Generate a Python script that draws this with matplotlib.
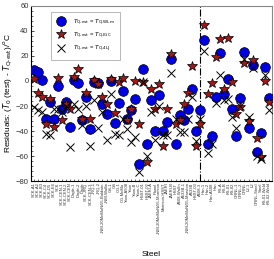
import matplotlib
matplotlib.use("Agg")
import matplotlib.pyplot as plt
from matplotlib.ticker import MultipleLocator

plt.rcParams['font.family'] = ['Liberation Sans', 'DejaVu Sans']

steels = [
    "SCK-A1", "SCK-A2", "SCK-B3", "SCK-C4", "SCK-D5", "SCK-E6", "SCK",
    "SCK-CEN-1", "SCK-CEN-2", "SCK-CEN", "Dagle-1", "Dagle-2", "Dagle",
    "SCK-JRQ", "SCK-CEN-3", "JRQ-1", "JRQ-2", "JNM-20MnMoNi55-Baldwin",
    "JNM-Wallin", "GS-1", "GS", "CG-1", "CG-MnMo", "Yoon-A508", "Yoon",
    "Yoon-B", "Yoon-C", "HSST-01", "HSST-02", "JAERI-A", "Pawel",
    "JNM-20MnMoNi55-Morrison", "Morrison-HSST", "JAERI", "JAERI-B", "HSST",
    "A508-Wallin", "A533B-1", "JNM-20MnMoNi55-Marston", "A533B", "HSST-03",
    "A508-3", "Han-1", "Han-2", "Han-A508", "Han", "KS-A", "KS-B", "KS-01",
    "KS-02", "ORNL-1", "ORNL-2", "ORNL", "L2-1", "L2", "ORNL-Steel", "Steel",
    "KS-01-Weld", "KS-02-Weld",
]

res_wlm = [8.8, 7, 0.8, -30, -16.5, -30, -4, -22.6, -16.5, -37,
           0.8, -1.9, -31, -13, -38.7, -0.5, -2, -18.4, -26, 0.3,
           -33.4, -17.4, -7.7, -30, -23.2, -14.7, -66, 9.3, -50.4, -15.2,
           -39.7, -11.2, -39.7, -32.5, 17.3, -50.4, -27.2, -31, -22.6, -6.7,
           -39.7, -23.2, 32.8, -50.4, -44, -13, 22, -10.4, 1.3, -22,
           -44, -13.9, 23.5, -37.8, 12.8, -56.5, -41.3, 11.5, -13.9]
res_igc = [1.3, -10, -13, -34, -14.6, -36.5, 2, -31, -18, -22,
           3.4, 9.3, -30.7, -10, -30, 0.8, -2.4, -12.5, -18.4, 1.3,
           -25.4, -0.5, 2.1, -31, -22, 0.3, -34, -0.5, -64.5, -6.7,
           -22, -2.4, -52, -22, 21.6, -34, -31, -18.4, -9.9, 12,
           -52, -34, 44.8, -10.4, -1.8, 19, 33.3, -6.7, 34, -0.5,
           -26, -20.5, 14, -31.7, 16.8, -45.8, -60.6, 0.3, -16.5]
res_4lj = [-20.5, -23, -25, -42.4, -43, -22, -22, -25, -20, -52.5,
           -18, -22, -35, -20, -51.7, -15, -37.6, -25, -47, -10.4,
           -42.4, -43, -30, -38, -48.5, -45, -72.5, -0.5, -60, -24.5,
           -47, -20, -43, -43, 6.7, -30, -41, -41, -30, -13,
           -48, -30, 24.3, -57.3, -50, -17.8, 4.8, -15, -14, -28.5,
           -37.8, -20, 17.6, -29, 10, -60, -62, 5, -23]

divider_steel = "A508-3"

fig = plt.figure(figsize=(2.74, 2.59), dpi=100)
ax = fig.add_axes([0.112, 0.301, 0.8825, 0.676])

x = list(range(len(steels)))
ax.plot(x, res_wlm, linestyle='none', marker='o', markersize=7,
        markerfacecolor='#0000e6', markeredgecolor='black', markeredgewidth=0.5,
        label=r'$T_{\rm Q\text{-}est}$ = $T_{\rm Q\text{-}WLm}$', zorder=3)
ax.plot(x, res_igc, linestyle='none', marker='*', markersize=7.5,
        markerfacecolor='#a01818', markeredgecolor='black', markeredgewidth=0.5,
        label=r'$T_{\rm Q\text{-}est}$ = $T_{\rm Q\text{-}IGC}$', zorder=4)
ax.plot(x, res_4lj, linestyle='none', marker='x', markersize=6,
        color='black', markeredgewidth=0.7,
        label=r'$T_{\rm Q\text{-}est}$ = $T_{\rm Q\text{-}4LJ}$', zorder=5)

ax.axvline(steels.index(divider_steel), color='black', linestyle='-.', linewidth=0.8, zorder=2)

ax.set_xlim(-0.7, len(steels) - 0.1)
ax.set_ylim(-80, 60)
ax.set_xticks(x)
ax.set_xticklabels(steels, rotation=90, fontsize=3.0, color='#333333')
ax.yaxis.set_major_locator(MultipleLocator(20))
ax.yaxis.set_minor_locator(MultipleLocator(4))
ax.tick_params(axis='y', which='major', direction='in', length=2.5, width=0.5, labelsize=5.5, pad=1.5)
ax.tick_params(axis='y', which='minor', direction='in', length=1.2, width=0.4)
ax.tick_params(axis='x', which='major', direction='in', length=1.5, width=0.4, pad=1)
for lab in ax.get_yticklabels():
    lab.set_color('#333333')

for s in ['left', 'bottom']:
    ax.spines[s].set_linewidth(0.8)
    ax.spines[s].set_color('black')
for s in ['top', 'right']:
    ax.spines[s].set_linewidth(0.8)
    ax.spines[s].set_color('#888888')

ax.set_ylabel(r'Residuals: ($T_0$ (test) - $T_{\rm Q\text{-}est}$)/$^{\rm o}$C', fontsize=6, labelpad=1)
ax.set_xlabel('Steel', fontsize=6)
ax.xaxis.set_label_coords(0.5, -0.40)

leg = ax.legend(loc='upper left', bbox_to_anchor=(0.08, 0.975), fontsize=4.2,
                frameon=True, fancybox=False, edgecolor='#999999',
                handletextpad=1.4, borderpad=1.0, labelspacing=0.7, handlelength=1.3,
                borderaxespad=0.2)
leg.get_frame().set_linewidth(0.6)

fig.savefig('out.png', dpi=100)
